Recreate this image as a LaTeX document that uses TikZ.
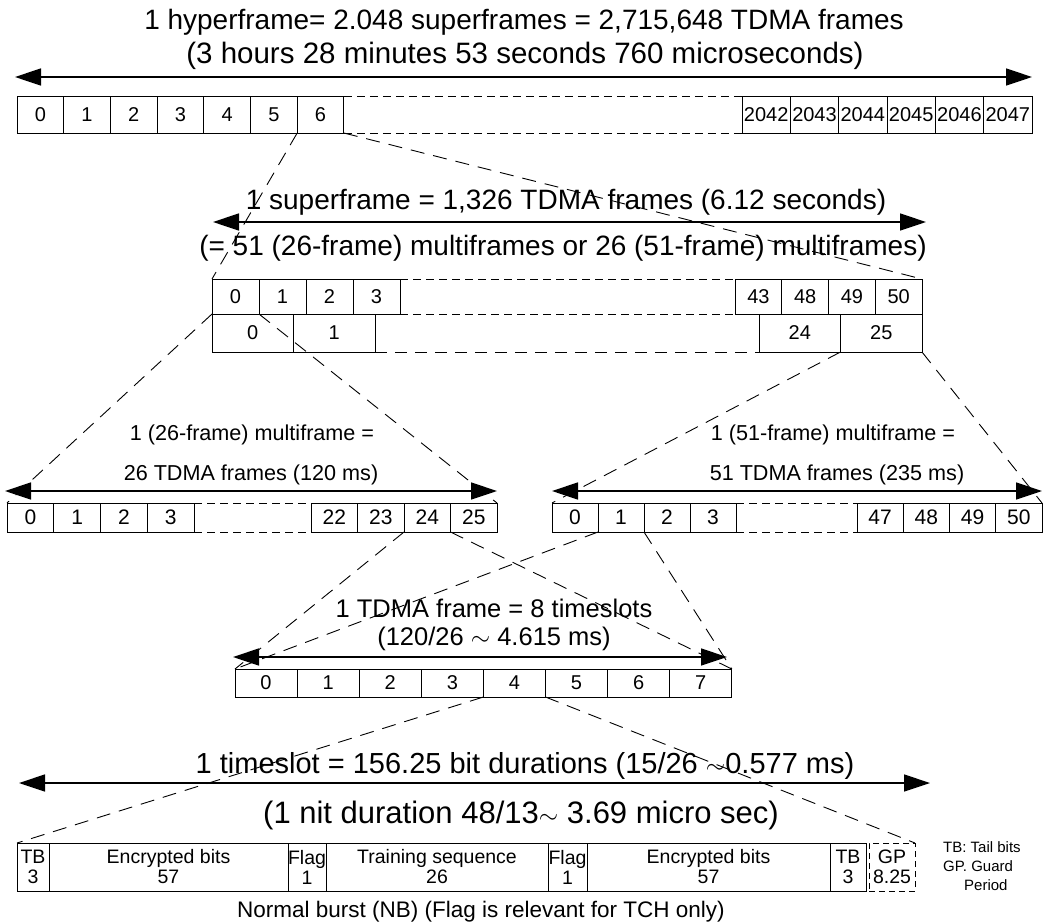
\documentclass[tikz,border=0pt]{standalone}
\usepackage{fontspec}
\setmainfont{Liberation Sans}
\usetikzlibrary{arrows.meta}
\begin{document}
\begin{tikzpicture}[x=1pt,y=-1pt,
  cell/.style={draw, line width=0.9pt, anchor=north west, inner sep=0pt, outer sep=0pt,
    font=\fontsize{20}{24}\selectfont},
  mcell/.style={cell, font=\fontsize{21}{24}\selectfont},
  bcell/.style={cell, align=center, minimum height=48pt, font=\fontsize{19.5}{20}\selectfont},
  spanarrow/.style={line width=1.5pt,
    {Triangle[length=26pt,width=17pt]}-{Triangle[length=26pt,width=17pt]}},
  proj/.style={line width=0.9pt, dash pattern=on 14pt off 9pt},
  gapline/.style={line width=0.9pt, dash pattern=on 8pt off 5pt},
  wgapline/.style={line width=0.9pt, dash pattern=on 12pt off 8pt},
  captxt/.style={anchor=base, inner sep=0pt},
  bigtxt/.style={captxt, font=\fontsize{28}{30}\selectfont},
  midtxt/.style={captxt, font=\fontsize{25.5}{28}\selectfont},
  smalltxt/.style={captxt, font=\fontsize{21.6}{24}\selectfont},
  legtxt/.style={anchor=base west, inner sep=0pt, font=\fontsize{15}{16}\selectfont},
]
\useasboundingbox (0,0) rectangle (1047,922);

% ---------- hyperframe ----------
\node[bigtxt] (title1) at (524,29) {1 hyperframe= 2.048 superframes = 2,715,648 TDMA frames};
\node[captxt, font=\fontsize{29.5}{30}\selectfont] (title2) at (525,63)
  {(3 hours 28 minutes 53 seconds 760 microseconds)};
\coordinate (hl) at (15,77);
\coordinate (hr) at (1032,77);
\draw[spanarrow] (hl) -- (hr);

\foreach \lab [count=\i from 0] in {0,...,6}
  \node[cell, minimum width=46.7pt, minimum height=37pt] (h\lab) at ({17+46.7*\i},96) {\lab};
\foreach \lab [count=\i from 0] in {2042,...,2047}
  \node[cell, minimum width=48.33pt, minimum height=37pt] (h\lab) at ({742+48.33*\i},96) {\lab};
\draw[gapline] (h6.north east) -- (h2042.north west);
\draw[gapline] (h6.south east) -- (h2042.south west);

% ---------- superframe ----------
\node[bigtxt] (sf1) at (566,209) {1 superframe = 1,326 TDMA frames (6.12 seconds)};
\node[bigtxt] (sf2) at (563,255) {(= 51 (26-frame) multiframes or 26 (51-frame) multiframes)};
\coordinate (sl) at (213,222);
\coordinate (sr) at (926,222);
\draw[spanarrow] (sl) -- (sr);

\foreach \lab [count=\i from 0] in {0,...,3}
  \node[cell, minimum width=47pt, minimum height=35pt] (s\lab) at ({212+47*\i},279) {\lab};
\foreach \lab [count=\i from 0] in {43,48,49,50}
  \node[cell, minimum width=46.75pt, minimum height=35pt] (s\lab) at ({735+46.75*\i},279) {\lab};
\draw[gapline] (s3.north east) -- (s43.north west);
\draw[gapline] (s3.south east) -- (s43.south west);

\node[cell, minimum width=81.5pt, minimum height=38pt] (w0) at (212,314) {0};
\node[cell, minimum width=81.5pt, minimum height=38pt] (w1) at (293.5,314) {1};
\node[cell, minimum width=81.5pt, minimum height=38pt] (w24) at (759,314) {24};
\node[cell, minimum width=81.5pt, minimum height=38pt] (w25) at (840.5,314) {25};
\draw[wgapline] (w1.south east) -- (w24.south west);

% ---------- multiframes ----------
\node[smalltxt] (mfa1) at (252,440) {1 (26-frame) multiframe =};
\node[smalltxt] (mfa2) at (251,480) {26 TDMA frames (120 ms)};
\node[smalltxt] (mfb1) at (833,440) {1 (51-frame) multiframe =};
\node[smalltxt] (mfb2) at (837,480) {51 TDMA frames (235 ms)};
\coordinate (ml) at (5,491);
\coordinate (mr) at (497,491);
\coordinate (nl) at (552,491);
\coordinate (nr) at (1042,491);
\draw[spanarrow] (ml) -- (mr);
\draw[spanarrow] (nl) -- (nr);

\foreach \lab [count=\i from 0] in {0,...,3}
  \node[mcell, minimum width=46.75pt, minimum height=29pt] (m\lab) at ({7+46.75*\i},503) {\lab};
\foreach \lab [count=\i from 0] in {22,...,25}
  \node[mcell, minimum width=46.5pt, minimum height=29pt] (m\lab) at ({311+46.5*\i},503) {\lab};
\draw[gapline] (m3.north east) -- (m22.north west);
\draw[gapline] (m3.south east) -- (m22.south west);

\foreach \lab [count=\i from 0] in {0,...,3}
  \node[mcell, minimum width=46pt, minimum height=29pt] (n\lab) at ({552+46*\i},503) {\lab};
\foreach \lab [count=\i from 0] in {47,...,50}
  \node[mcell, minimum width=46.25pt, minimum height=29pt] (n\lab) at ({857+46.25*\i},503) {\lab};
\draw[gapline] (n3.north east) -- (n47.north west);
\draw[gapline] (n3.south east) -- (n47.south west);

% ---------- TDMA frame ----------
\node[midtxt] (tf1) at (494,617) {1 TDMA frame = 8 timeslots};
\node[midtxt] (tf2) at (494,645) {(120/26 $\sim$ 4.615 ms)};
\coordinate (tl) at (233,657);
\coordinate (tr) at (727,657);
\draw[spanarrow] (tl) -- (tr);
\foreach \lab [count=\i from 0] in {0,...,7}
  \node[cell, minimum width=62.1pt, minimum height=28pt] (t\lab) at ({235+62.1*\i},669) {\lab};

% ---------- timeslot / normal burst ----------
\node[captxt, font=\fontsize{29}{30}\selectfont] (ts1) at (525,773)
  {1 timeslot = 156.25 bit durations (15/26 $\sim$0.577 ms)};
\node[captxt, font=\fontsize{31}{32}\selectfont] (ts2) at (521,823)
  {(1 nit duration 48/13$\sim$ 3.69 micro sec)};
\coordinate (bl) at (19,783);
\coordinate (br) at (930,783);
\draw[spanarrow] (bl) -- (br);

\node[bcell, minimum width=32pt] (b1) at (17,843) {TB\\3};
\node[bcell, minimum width=239pt] (b2) at (49,843) {Encrypted bits\\57};
\node[bcell, minimum width=38pt] (b3) at (288,843) {Flag\\1};
\node[bcell, minimum width=222pt] (b4) at (326,843) {Training sequence\\26};
\node[bcell, minimum width=39pt] (b5) at (548,843) {Flag\\1};
\node[bcell, minimum width=243pt] (b6) at (587,843) {Encrypted bits\\57};
\node[bcell, minimum width=36pt] (b7) at (830,843) {TB\\3};
\node[bcell, dash pattern=on 6pt off 4pt, minimum width=46pt] (gp) at (869,843) {GP\\8.25};

\node[captxt, font=\fontsize{22.5}{24}\selectfont] (nb) at (481,917)
  {Normal burst (NB) (Flag is relevant for TCH only)};
\node[legtxt] (lg1) at (943,852) {TB: Tail bits};
\node[legtxt] (lg2) at (943,871) {GP. Guard};
\node[legtxt] (lg3) at (964,890) {Period};

% ---------- projection lines ----------
\draw[proj] (h6.south west) -- (s0.north west);
\draw[proj] (h6.south east) -- (s50.north east);
\draw[proj] (s0.south west) -- (m0.north west);
\draw[proj] (s0.south east) -- (m25.north east);
\draw[proj] (w24.south east) -- (n0.north west);
\draw[proj] (w25.south east) -- (n50.north east);
\draw[proj] (m24.south west) -- (t0.north west);
\draw[proj] (m25.south west) -- (t7.north east);
\draw[proj] (n1.south west) -- (t0.north west);
\draw[proj] (n2.south west) -- (t7.north east);
\draw[proj] (t4.south west) -- (b1.north west);
\draw[proj] (t4.south east) -- (gp.north east);
\end{tikzpicture}
\end{document}
